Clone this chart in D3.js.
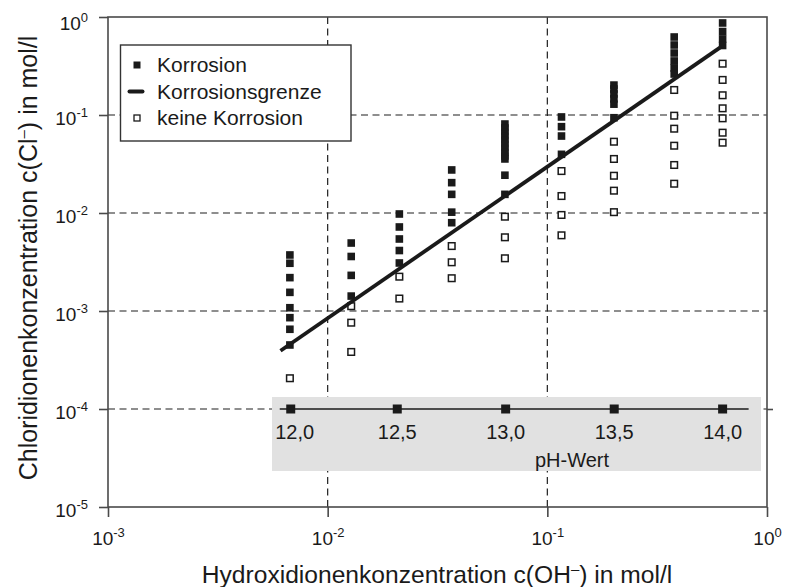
<!DOCTYPE html>
<html>
<head>
<meta charset="utf-8">
<script src="https://cdn.jsdelivr.net/npm/d3@7"></script>
<style>
  html, body { margin: 0; padding: 0; background: #fff; }
  svg { display: block; font-family: "Liberation Sans", Arial, Helvetica, sans-serif; }
</style>
</head>
<body>
<svg id="chart" width="785" height="587"></svg>
<script>
// ---------- data ----------
const xTickValues = [1e-3, 1e-2, 1e-1, 1e0];
const xTickExponents = ["-3", "-2", "-1", "0"];
const yTickValues = [1e0, 1e-1, 1e-2, 1e-3, 1e-4, 1e-5];
const yTickExponents = ["0", "-1", "-2", "-3", "-4", "-5"];
const gridX = [1e-2, 1e-1];
const gridY = [1e-1, 1e-2, 1e-3, 1e-4];

// hydroxide concentration of each measurement column (mol/l)
const columnOH = [0.00673, 0.0128, 0.0212, 0.0367, 0.0641, 0.116, 0.201, 0.378, 0.628];

// chloride concentrations with corrosion (filled squares)
const korrosion = [
  [0.00373, 0.00307, 0.00219, 0.00155, 0.00108, 0.000855, 0.000651, 0.00045],
  [0.00494, 0.0036, 0.00231, 0.00142],
  [0.00977, 0.0072, 0.00543, 0.00414, 0.00309],
  [0.0275, 0.0204, 0.0155, 0.0102, 0.00796],
  [0.0809, 0.0737, 0.0671, 0.0611, 0.0556, 0.0506, 0.0461, 0.0419, 0.0382, 0.0356, 0.0243, 0.0155],
  [0.0955, 0.076, 0.061, 0.0397],
  [0.202, 0.184, 0.164, 0.146, 0.129, 0.0938],
  [0.625, 0.518, 0.429, 0.356, 0.302, 0.262],
  [0.869, 0.711, 0.597, 0.512]
];

// chloride concentrations without corrosion (open squares)
const keineKorrosion = [
  [0.000206],
  [0.00112, 0.00076, 0.000382],
  [0.00224, 0.00134],
  [0.0046, 0.00314, 0.00216],
  [0.00917, 0.00565, 0.00345],
  [0.0268, 0.0149, 0.00955, 0.00592],
  [0.0534, 0.0356, 0.024, 0.0169, 0.0102],
  [0.180, 0.0984, 0.0725, 0.0486, 0.0309, 0.0199],
  [0.334, 0.228, 0.159, 0.117, 0.0925, 0.066, 0.0522]
];

// Korrosionsgrenze (limit line) end points
const grenzeOH = [0.0061, 0.62];
const grenzeCl = [0.000393, 0.498];

// pH scale
const pHLabels = ["12,0", "12,5", "13,0", "13,5", "14,0"];
const pHOH = [0.00679, 0.02074, 0.0646, 0.2016, 0.628];
const pHAxisCl = 1e-4;

const legendLabels = ["Korrosion", "Korrosionsgrenze", "keine Korrosion"];

// ---------- layout ----------
const W = 785, H = 587;
const m = { left: 108, right: 767, top: 17, bottom: 507 };
const ink = "#1a1a1a";
const axisCol = "#4a4a4a";
const font = '"Liberation Sans", Arial, Helvetica, sans-serif';

const svg = d3.select("#chart");
svg.append("rect").attr("width", W).attr("height", H).attr("fill", "#fff");

const x = d3.scaleLog().domain([1e-3, 1e0]).range([m.left, m.right]);
const y = d3.scaleLog().domain([1e-5, 1e0]).range([m.bottom, m.top]);

// grid
const grid = svg.append("g").attr("stroke", "#1e1e1e").attr("stroke-width", 1.2)
  .attr("stroke-dasharray", "7,4.5").attr("fill", "none");
grid.selectAll("line.gx").data(gridX).join("line").attr("class", "gx")
  .attr("x1", d => x(d)).attr("x2", d => x(d)).attr("y1", m.top).attr("y2", m.bottom);
grid.selectAll("line.gy").data(gridY).join("line").attr("class", "gy")
  .attr("y1", d => y(d)).attr("y2", d => y(d)).attr("x1", m.left).attr("x2", m.right);

// grey pH box (covers grid)
const box = { x0: 272, x1: 761, y0: 397, y1: 471 };
svg.append("rect").attr("x", box.x0).attr("y", box.y0)
  .attr("width", box.x1 - box.x0).attr("height", box.y1 - box.y0).attr("fill", "#e1e1e1");

// frame
svg.append("rect").attr("x", m.left).attr("y", m.top)
  .attr("width", m.right - m.left).attr("height", m.bottom - m.top)
  .attr("fill", "none").attr("stroke", axisCol).attr("stroke-width", 1.6);

// axes via d3 axis generators
const xAxis = d3.axisBottom(x).tickValues(xTickValues).tickSize(10).tickFormat("");
const gX = svg.append("g").attr("transform", `translate(0,${m.bottom})`).call(xAxis);
gX.select(".domain").remove();
gX.selectAll(".tick line").attr("stroke", axisCol).attr("stroke-width", 1.6);
gX.selectAll(".tick").each(function(d, i) {
  const t = d3.select(this).append("text").attr("x", 0).attr("y", 38)
    .attr("text-anchor", "middle").attr("fill", ink)
    .style("font-family", font).style("font-size", "19px");
  t.append("tspan").text("10");
  t.append("tspan").attr("dy", -8).style("font-size", "13px").text(xTickExponents[i]);
});

const yAxis = d3.axisLeft(y).tickValues(yTickValues).tickSize(9).tickFormat("");
const gY = svg.append("g").attr("transform", `translate(${m.left},0)`).call(yAxis);
gY.select(".domain").remove();
gY.selectAll(".tick line").attr("stroke", axisCol).attr("stroke-width", 1.6);
gY.selectAll(".tick").each(function(d, i) {
  const t = d3.select(this).append("text").attr("x", -20).attr("y", i === 0 ? 12 : 9)
    .attr("text-anchor", "end").attr("fill", ink)
    .style("font-family", font).style("font-size", "19px");
  t.append("tspan").text("10");
  t.append("tspan").attr("dy", -8).style("font-size", "13px").text(yTickExponents[i]);
});

// right-side tick at the pH line
const yR = d3.axisRight(y).tickValues([pHAxisCl]).tickSize(6).tickFormat("");
const gR = svg.append("g").attr("transform", `translate(${m.right},0)`).call(yR);
gR.select(".domain").remove();
gR.selectAll(".tick line").attr("stroke", axisCol).attr("stroke-width", 1.6);

// pH scale
const pHg = svg.append("g");
pHg.append("line")
  .attr("x1", x(pHOH[0]) - 11).attr("x2", x(pHOH[pHOH.length - 1]) + 26)
  .attr("y1", y(pHAxisCl)).attr("y2", y(pHAxisCl))
  .attr("stroke", ink).attr("stroke-width", 1.5);
pHg.selectAll("rect").data(pHOH).join("rect")
  .attr("x", d => x(d) - 4.5).attr("y", y(pHAxisCl) - 4.5)
  .attr("width", 9).attr("height", 9).attr("fill", ink);
pHg.selectAll("text.ph").data(pHOH).join("text").attr("class", "ph")
  .attr("x", (d, i) => x(d) + (i === 0 ? 4 : 0)).attr("y", y(pHAxisCl) + 30)
  .attr("text-anchor", "middle").attr("fill", ink)
  .style("font-family", font).style("font-size", "20px")
  .text((d, i) => pHLabels[i]);
pHg.append("text").attr("x", 572).attr("y", y(pHAxisCl) + 58)
  .attr("text-anchor", "middle").attr("fill", ink)
  .style("font-family", font).style("font-size", "20px").text("pH-Wert");

// data points
const filled = [], open = [];
korrosion.forEach((col, i) => col.forEach(v => filled.push([columnOH[i], v])));
keineKorrosion.forEach((col, i) => col.forEach(v => open.push([columnOH[i], v])));

svg.append("g").selectAll("rect").data(open).join("rect")
  .attr("x", d => x(d[0]) - 3.3).attr("y", d => y(d[1]) - 3.3)
  .attr("width", 6.6).attr("height", 6.6)
  .attr("fill", "#fff").attr("stroke", ink).attr("stroke-width", 1.5);

svg.append("g").selectAll("rect").data(filled).join("rect")
  .attr("x", d => x(d[0]) - 3.8).attr("y", d => y(d[1]) - 3.8)
  .attr("width", 7.6).attr("height", 7.6).attr("fill", ink);

// Korrosionsgrenze
svg.append("line")
  .attr("x1", x(grenzeOH[0])).attr("y1", y(grenzeCl[0]))
  .attr("x2", x(grenzeOH[1])).attr("y2", y(grenzeCl[1]))
  .attr("stroke", ink).attr("stroke-width", 3.8);

// legend
const lg = svg.append("g");
lg.append("rect").attr("x", 120.5).attr("y", 45).attr("width", 230.5).attr("height", 96)
  .attr("fill", "#fff").attr("stroke", "#333").attr("stroke-width", 1.4);
const rows = [65, 91.5, 118];
lg.append("rect").attr("x", 133.5).attr("y", rows[0] - 3.5).attr("width", 7).attr("height", 7).attr("fill", ink);
lg.append("line").attr("x1", 129.5).attr("x2", 142.5).attr("y1", rows[1]).attr("y2", rows[1])
  .attr("stroke", ink).attr("stroke-width", 4).attr("stroke-linecap", "round");
lg.append("rect").attr("x", 134).attr("y", rows[2] - 3).attr("width", 6).attr("height", 6)
  .attr("fill", "#fff").attr("stroke", ink).attr("stroke-width", 1.3);
lg.selectAll("text").data(legendLabels).join("text")
  .attr("x", 157).attr("y", (d, i) => rows[i] + 7)
  .attr("fill", ink).style("font-family", font).style("font-size", "21px")
  .text(d => d);

// axis titles
const xt = svg.append("text").attr("x", 437).attr("y", 583).attr("text-anchor", "middle")
  .attr("fill", ink).style("font-family", font).style("font-size", "24.6px");
xt.append("tspan").text("Hydroxidionenkonzentration c(OH");
xt.append("tspan").attr("dy", -9).style("font-size", "15px").text("–");
xt.append("tspan").attr("dy", 9).text(") in mol/l");

const yt = svg.append("text").attr("transform", "translate(37,258) rotate(-90)")
  .attr("text-anchor", "middle")
  .attr("fill", ink).style("font-family", font).style("font-size", "25px");
yt.append("tspan").text("Chloridionenkonzentration c(Cl");
yt.append("tspan").attr("dy", -9).style("font-size", "15px").text("–");
yt.append("tspan").attr("dy", 9).text(") in mol/l");
</script>
</body>
</html>
